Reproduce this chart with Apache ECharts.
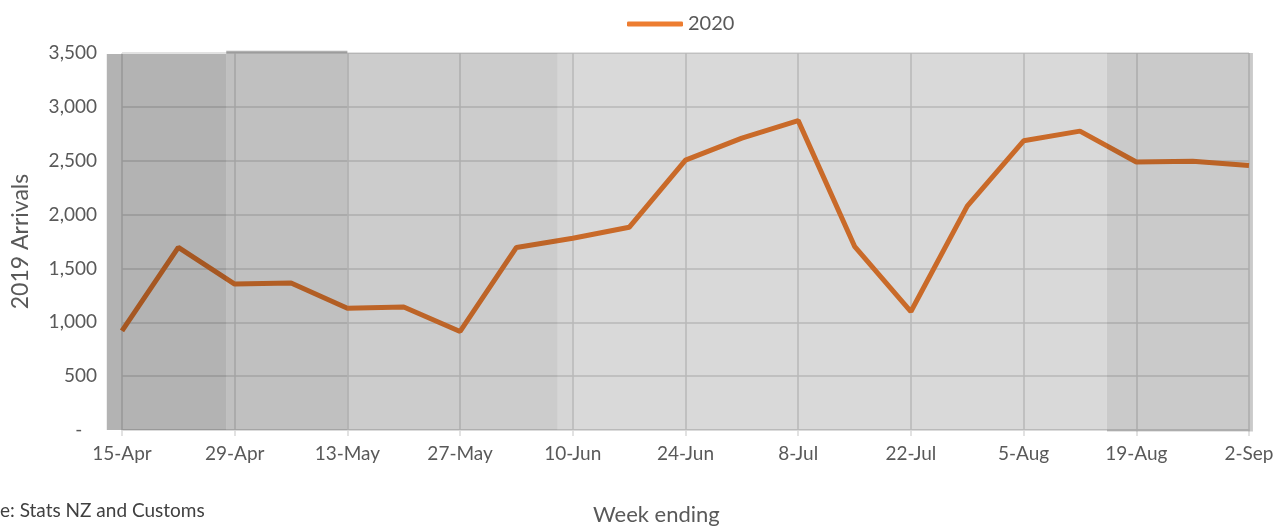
<!DOCTYPE html>
<html>
<head>
<meta charset="utf-8">
<script src="https://cdn.jsdelivr.net/npm/echarts@6/dist/echarts.min.js"></script>
<style>
  html, body { margin: 0; padding: 0; background: #fff; }
  #main { width: 1280px; height: 531px; }
</style>
</head>
<body>
<div id="main"></div>
<script>
// week ending dates (weekly)
const weeks = ['15-Apr', '22-Apr', '29-Apr', '6-May', '13-May', '20-May', '27-May', '3-Jun',
  '10-Jun', '17-Jun', '24-Jun', '1-Jul', '8-Jul', '15-Jul', '22-Jul', '29-Jul',
  '5-Aug', '12-Aug', '19-Aug', '26-Aug', '2-Sep'];
const arrivals2020 = [920, 1695, 1355, 1365, 1130, 1142, 915, 1695, 1780, 1882, 2505,
  2710, 2872, 1705, 1100, 2078, 2685, 2775, 2488, 2495, 2455];
const yTicks = [0, 500, 1000, 1500, 2000, 2500, 3000, 3500];

// shaded periods (in weeks from 15-Apr) and their value range
const bandStart = [-0.27, 1.85, 1.85, 4, 7.73, 8, 17.48];
const bandEnd = [1.85, 4, 4, 7.73, 8, 17.48, 20.07];
const bandLow = [0, 0, 3500, 0, 0, 0, -14];
const bandHigh = [3490, 3500, 3522, 3500, 3500, 3500, 3500];
const bandAlpha = [0.298, 0.247, 0.31, 0.2, 0.161, 0.149, 0.208];

const txt = '#595959';
const font = 'Lato, "Open Sans", sans-serif';

var myChart = echarts.init(document.getElementById('main'));
var option = {
    animation: false,
    textStyle: { fontFamily: font },
    legend: {
        left: 622,
        top: 9,
        icon: 'roundRect',
        itemWidth: 56,
        itemHeight: 5,
        textStyle: { color: txt, fontSize: 20, fontFamily: font },
        data: ['2020']
    },
    grid: { left: 122, right: 31, top: 53, bottom: 101, outerBoundsMode: 'none' },
    xAxis: {
        type: 'value',
        min: 0,
        max: weeks.length - 1,
        interval: 2,
        axisLine: { lineStyle: { color: '#d9d9d9', width: 1.5 } },
        axisTick: { show: true, length: 6, lineStyle: { color: '#d9d9d9', width: 1.5 } },
        splitLine: { show: true, lineStyle: { color: '#d9d9d9', width: 1.5 } },
        axisLabel: {
            color: txt, fontSize: 19, margin: 14,
            formatter: v => weeks[v] || ''
        }
    },
    yAxis: {
        type: 'value',
        min: yTicks[0],
        max: yTicks[yTicks.length - 1],
        interval: 500,
        name: '2019 Arrivals',
        nameLocation: 'middle',
        nameGap: 90,
        nameTextStyle: { color: txt, fontSize: 23, fontFamily: font },
        axisLine: { show: false },
        axisTick: { show: false },
        splitLine: { lineStyle: { color: '#d9d9d9', width: 1.5 } },
        axisLabel: {
            color: txt, fontSize: 19, margin: 25,
            formatter: v => v === 0 ? '-   ' : v.toLocaleString('en-US')
        }
    },
    graphic: [
        {
            type: 'text', left: 593, top: 504,
            style: { text: 'Week ending', fill: txt, font: '22px ' + font }
        },
        {
            type: 'text', left: 0, top: 501,
            style: { text: 'e: Stats NZ and Customs', fill: '#404040', font: '19px ' + font }
        }
    ],
    series: [
        {
            name: '2020',
            type: 'line',
            z: 2,
            symbol: 'none',
            color: '#ed7d31',
            lineStyle: { width: 5, color: '#ed7d31' },
            data: arrivals2020.map((v, i) => [i, v])
        },
        {
            type: 'custom',
            z: 3,
            silent: true,
            clip: false,
            encode: { x: [0, 1], y: [2, 3] },
            data: bandStart.map((s, i) => [s, bandEnd[i], bandLow[i], bandHigh[i]]),
            renderItem: function (params, api) {
                var p0 = api.coord([api.value(0), api.value(3)]);
                var p1 = api.coord([api.value(1), api.value(2)]);
                return {
                    type: 'rect',
                    shape: { x: p0[0], y: p0[1], width: p1[0] - p0[0], height: p1[1] - p0[1] },
                    style: { fill: 'rgba(0,0,0,' + bandAlpha[params.dataIndex] + ')' }
                };
            }
        }
    ]
};
option && myChart.setOption(option);
</script>
</body>
</html>
